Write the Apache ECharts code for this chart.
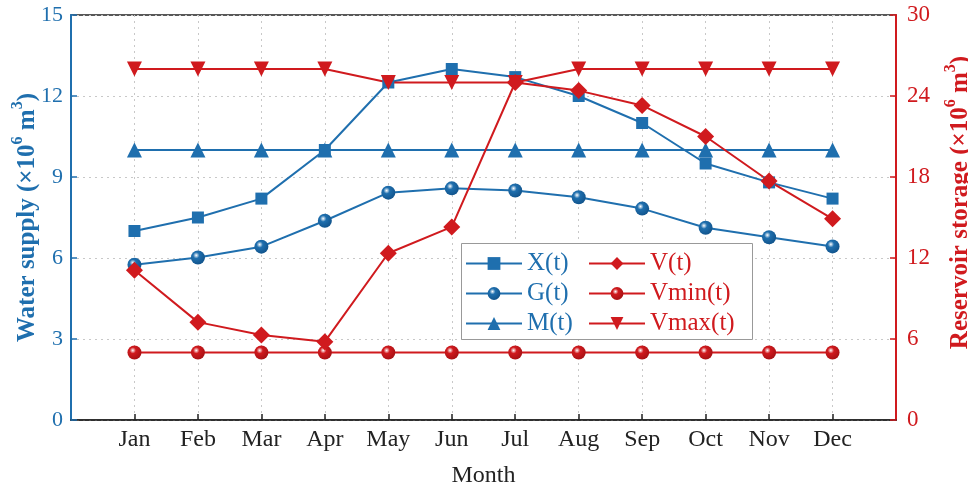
<!DOCTYPE html>
<html>
<head>
<meta charset="utf-8">
<script src="https://cdn.jsdelivr.net/npm/echarts@6/dist/echarts.min.js"></script>
<style>
  html, body { margin: 0; padding: 0; background: #fff; }
  #chart { width: 968px; height: 489px; }
</style>
</head>
<body>
<div id="chart"></div>
<script>
// months along the x axis (positions 1..12, with an empty slot at each end)
const months = ['Jan', 'Feb', 'Mar', 'Apr', 'May', 'Jun', 'Jul', 'Aug', 'Sep', 'Oct', 'Nov', 'Dec'];

// water supply (left axis, x10^6 m3)
const xData = [7.0, 7.5, 8.2, 10.0, 12.5, 13.0, 12.7, 12.0, 11.0, 9.5, 8.8, 8.2];
const gData = [5.75, 6.02, 6.42, 7.38, 8.42, 8.58, 8.5, 8.25, 7.83, 7.12, 6.77, 6.43];
const mData = [10, 10, 10, 10, 10, 10, 10, 10, 10, 10, 10, 10];

// reservoir storage (right axis, x10^6 m3)
const vData = [11.1, 7.25, 6.3, 5.8, 12.35, 14.3, 25.0, 24.4, 23.3, 21.0, 17.7, 14.9];
const vminData = [5, 5, 5, 5, 5, 5, 5, 5, 5, 5, 5, 5];
const vmaxData = [26, 26, 26, 26, 25, 25, 25, 26, 26, 26, 26, 26];

const leftTicks = [0, 3, 6, 9, 12, 15];
const rightTicks = [0, 6, 12, 18, 24, 30];

const blue = '#1f6fae';
const red = '#d01a1e';
const font = 'Liberation Serif';

// pair each month position with its value
const pts = (arr) => arr.map((v, i) => [i + 1, v]);

const ball = (base, dark) => ({
  type: 'radial', x: 0.38, y: 0.35, r: 0.75,
  colorStops: [
    { offset: 0, color: '#ffffff' },
    { offset: 0.3, color: base },
    { offset: 1, color: dark }
  ]
});

// axis title with raised superscripts
const supRich = (color) => ({
  a: { fontFamily: font, fontSize: 25, fontWeight: 'bold', color: color, lineHeight: 30, verticalAlign: 'bottom' },
  s: { fontFamily: font, fontSize: 16, fontWeight: 'bold', color: color, lineHeight: 30, verticalAlign: 'top' }
});

const legendBase = (left, names, color) => ({
  orient: 'vertical',
  left: left, top: 251,
  itemGap: 5,
  itemWidth: 56,
  itemHeight: 16,
  padding: 0,
  textStyle: { fontFamily: font, fontSize: 25, color: color },
  data: names
});

const chart = echarts.init(document.getElementById('chart'));

const makeLine = (name, data, color, symbol, size, yIndex, extra) => Object.assign({
  name: name,
  type: 'line',
  yAxisIndex: yIndex,
  data: pts(data),
  symbol: symbol,
  symbolSize: size,
  lineStyle: { color: color, width: 2 },
  itemStyle: { color: color },
  emphasis: { disabled: true },
  animation: false
}, extra || {});

chart.setOption({
  backgroundColor: '#fff',
  grid: {
    left: 71, right: 72, top: 15, bottom: 69,
    outerBoundsMode: 'none',
    containLabel: false,
    show: true, borderColor: '#222', borderWidth: 1.5, backgroundColor: 'transparent'
  },
  // legend frame
  graphic: [{
    type: 'rect', left: 461, top: 243, z: 3,
    shape: { width: 291, height: 96 },
    style: { fill: '#fff', stroke: '#999', lineWidth: 1 }
  }],
  legend: [
    legendBase(465, ['X(t)', 'G(t)', 'M(t)'], blue),
    legendBase(588, ['V(t)', 'Vmin(t)', 'Vmax(t)'], red)
  ],
  xAxis: {
    type: 'value',
    min: 0, max: 13, interval: 1,
    name: 'Month',
    nameLocation: 'middle',
    nameGap: 44,
    nameMoveOverlap: false,
    nameTextStyle: { fontFamily: font, fontSize: 24, color: '#222' },
    axisLine: { show: true, lineStyle: { color: '#222', width: 1.5 } },
    axisTick: {
      show: true, inside: true, length: 6,
      lineStyle: { color: '#222', width: 1.5 },
      customValues: [1, 2, 3, 4, 5, 6, 7, 8, 9, 10, 11, 12]
    },
    axisLabel: {
      fontFamily: font, fontSize: 24, color: '#222', margin: 8,
      customValues: [1, 2, 3, 4, 5, 6, 7, 8, 9, 10, 11, 12],
      formatter: (v) => months[v - 1] || ''
    },
    splitLine: { show: true, lineStyle: { color: '#c8c8c8', type: [2, 4], width: 1 } }
  },
  yAxis: [
    {
      type: 'value',
      min: 0, max: 15, interval: 3,
      position: 'left',
      name: '{a|Water supply (×10}{s|6}{a| m}{s|3}{a|)}',
      nameLocation: 'middle',
      nameGap: 31,
      nameMoveOverlap: false,
      nameTextStyle: { rich: supRich(blue) },
      axisLine: { show: true, lineStyle: { color: blue, width: 2 } },
      axisTick: { show: true, inside: true, length: 6, lineStyle: { color: blue, width: 1.5 } },
      axisLabel: {
        fontFamily: font, fontSize: 22, color: blue, margin: 8,
        formatter: (v) => leftTicks.indexOf(v) >= 0 ? String(v) : ''
      },
      splitLine: { show: true, lineStyle: { color: '#c8c8c8', type: [2, 4], width: 1 } }
    },
    {
      type: 'value',
      min: 0, max: 30, interval: 6,
      position: 'right',
      name: '{a|Reservoir storage (×10}{s|6}{a| m}{s|3}{a|)}',
      nameLocation: 'middle',
      nameGap: 47,
      nameMoveOverlap: false,
      nameTextStyle: { rich: supRich(red), padding: [0, 0, 0, 30] },
      axisLine: { show: true, lineStyle: { color: red, width: 2 } },
      axisTick: { show: true, inside: true, length: 6, lineStyle: { color: red, width: 1.5 } },
      axisLabel: {
        fontFamily: font, fontSize: 23, color: red, margin: 11,
        formatter: (v) => rightTicks.indexOf(v) >= 0 ? String(v) : ''
      },
      splitLine: { show: false }
    }
  ],
  series: [
    makeLine('M(t)', mData, blue, 'triangle', 15, 0),
    makeLine('G(t)', gData, blue, 'circle', 14, 0, { itemStyle: { color: ball(blue, '#0f4f86') } }),
    makeLine('X(t)', xData, blue, 'rect', 12, 0),
    makeLine('Vmin(t)', vminData, red, 'circle', 14, 1, { itemStyle: { color: ball(red, '#a00f12') } }),
    makeLine('Vmax(t)', vmaxData, red, 'triangle', 15, 1, { symbolRotate: 180 }),
    makeLine('V(t)', vData, red, 'diamond', 17, 1)
  ]
});
</script>
</body>
</html>
